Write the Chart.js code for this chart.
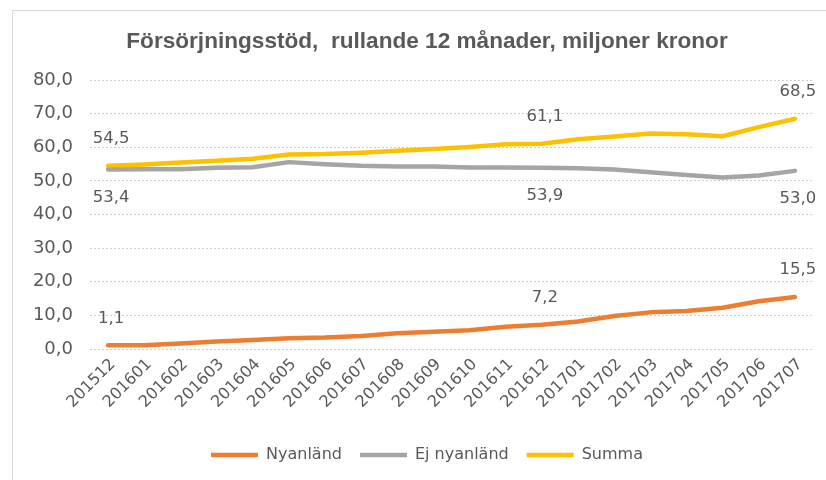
<!DOCTYPE html>
<html>
<head>
<meta charset="utf-8">
<script src="https://cdn.jsdelivr.net/npm/chart.js@4.4.1/dist/chart.umd.min.js"></script>
<style>
    body { margin: 0; background: #fff; }
    #wrap { position: relative; width: 826px; height: 480px; overflow: hidden; }
    #frame { position: absolute; left: 12px; top: 10px; width: 900px; height: 600px; border: 1px solid #d9d9d9; }
    canvas { position: absolute; left: 0; top: 0; }
</style>
</head>
<body>
<div id="wrap">
    <div id="frame"></div>
    <canvas id="chart" width="826" height="480"></canvas>
</div>
<script>
// months, rolling 12
const months = ['201512', '201601', '201602', '201603', '201604', '201605', '201606', '201607', '201608', '201609',
    '201610', '201611', '201612', '201701', '201702', '201703', '201704', '201705', '201706', '201707'];

const nyanland = [1.1, 1.1, 1.6, 2.2, 2.7, 3.2, 3.4, 3.9, 4.7, 5.1, 5.6, 6.6, 7.2, 8.2, 9.8, 10.9, 11.3, 12.3, 14.2, 15.5];
const ejNyanland = [53.4, 53.5, 53.5, 53.9, 54.1, 55.6, 55.0, 54.5, 54.3, 54.3, 54.0, 54.0, 53.9, 53.8, 53.4, 52.6, 51.8, 51.0, 51.6, 53.0];
const summa = [54.5, 54.9, 55.5, 56.0, 56.6, 57.9, 58.0, 58.4, 59.0, 59.5, 60.1, 60.9, 61.1, 62.4, 63.2, 64.1, 63.9, 63.3, 66.0, 68.5];

// which points get a value label
const labelIdx = [0, 12, 19];

const fmt = v => v.toFixed(1).replace('.', ',');
const textColor = '#595959';
const sans = '"DejaVu Sans", Verdana, sans-serif';

// draws the value labels above / below the points
const valueLabels = {
    id: 'valueLabels',
    afterDatasetsDraw(chart) {
        const ctx = chart.ctx;
        ctx.save();
        ctx.font = '16.5px ' + sans;
        ctx.fillStyle = textColor;
        ctx.textAlign = 'center';
        ctx.textBaseline = 'middle';
        chart.data.datasets.forEach((ds, i) => {
            const meta = chart.getDatasetMeta(i);
            labelIdx.forEach(idx => {
                const pt = meta.data[idx];
                const dy = ds.labelBelow ? 28 : -27;
                ctx.fillText(fmt(ds.data[idx]), pt.x + 3, pt.y + dy);
            });
        });
        ctx.restore();
    }
};

new Chart(document.getElementById('chart'), {
    type: 'line',
    data: {
        labels: months,
        datasets: [
            { label: 'Nyanländ', data: nyanland, borderColor: '#ED7D31', backgroundColor: '#ED7D31', borderWidth: 4.5 },
            { label: 'Ej nyanländ', data: ejNyanland, borderColor: '#A5A5A5', backgroundColor: '#A5A5A5', borderWidth: 4.5, labelBelow: true },
            { label: 'Summa', data: summa, borderColor: '#FFC000', backgroundColor: '#FFC000', borderWidth: 4.5 }
        ]
    },
    options: {
        responsive: false,
        animation: false,
        layout: { padding: { left: 28, right: 0, top: 0, bottom: 7 } },
        elements: {
            line: { tension: 0, borderCapStyle: 'round', borderJoinStyle: 'round' },
            point: { radius: 0 }
        },
        scales: {
            x: {
                offset: true,
                grid: { display: false, drawTicks: false },
                border: { display: false },
                ticks: {
                    color: textColor,
                    font: { family: sans, size: 16 },
                    maxRotation: 45,
                    minRotation: 45,
                    autoSkip: false,
                    padding: 6,
                    labelOffset: 5
                },
                afterFit: scale => { scale.height = 80; }
            },
            y: {
                min: 0,
                max: 80,
                ticks: {
                    stepSize: 10,
                    color: textColor,
                    font: { family: sans, size: 18 },
                    padding: 17,
                    callback: v => fmt(v)
                },
                grid: { color: '#cccccc', drawTicks: false },
                border: { display: false, dash: [2, 2] },
                afterFit: scale => { scale.width = 62; }
            },
            // empty right-hand spacer so the plot ends where the reference does
            spacer: {
                type: 'linear',
                position: 'right',
                grid: { display: false },
                border: { display: false },
                ticks: { display: false },
                afterFit: scale => { scale.width = 13; }
            }
        },
        plugins: {
            title: {
                display: true,
                text: 'Försörjningsstöd,  rullande 12 månader, miljoner kronor',
                color: textColor,
                font: { family: '"Liberation Sans", Arial, sans-serif', size: 22.6, weight: 'bold' },
                padding: { top: 28, bottom: 25 }
            },
            legend: {
                position: 'bottom',
                labels: {
                    color: textColor,
                    font: { family: sans, size: 16 },
                    usePointStyle: true,
                    pointStyle: 'line',
                    pointStyleWidth: 47,
                    padding: 18
                }
            },
            tooltip: { enabled: false }
        }
    },
    plugins: [valueLabels]
});
</script>
</body>
</html>
